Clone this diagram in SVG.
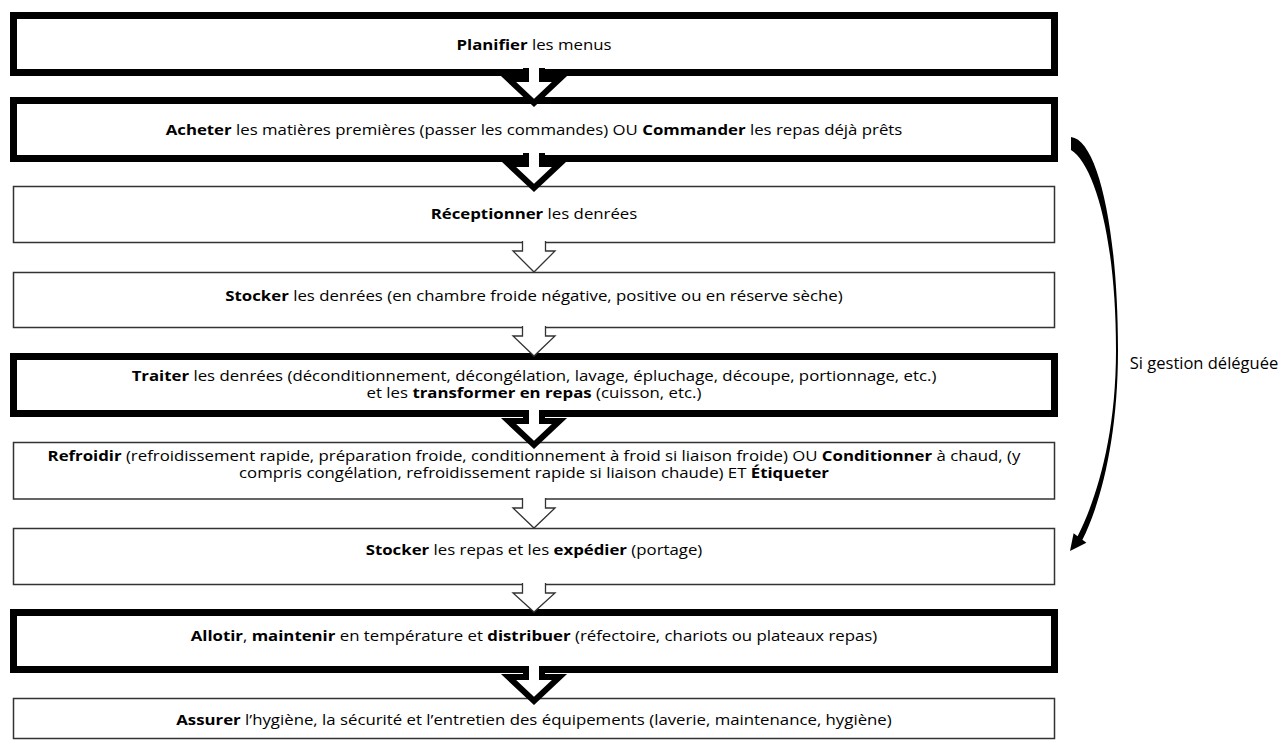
<svg xmlns="http://www.w3.org/2000/svg" width="1284" height="747" viewBox="0 0 1284 747">
<style>
.thick{fill:#fff;stroke:#000;stroke-width:7}
.thin{fill:#fff;stroke:#333;stroke-width:1.5}
text{font-family:"Open Sans","Liberation Sans",sans-serif;font-size:15px;fill:#000;text-anchor:middle}
.b{font-weight:bold}
.ta{fill:#fff;stroke:#000;stroke-width:6;stroke-linejoin:miter}
.na{fill:#fff;stroke:#333;stroke-width:1.3;stroke-linejoin:miter}
</style>
<defs>
<path id="bigArrow" d="M -8 0 V 11 H -25.5 L 0 35 L 25.5 11 H 8 V 0"/>
</defs>
<rect width="1284" height="747" fill="#fff"/>
<g id="n1"><rect class="thick" x="13.5" y="15.5" width="1041" height="57"/><g transform="matrix(1.12,0,0,1,-64.08,0)"><text x="534" y="50"><tspan class="b">Planifier</tspan> les menus</text></g></g>
<g id="n2"><rect class="thick" x="13.5" y="100.5" width="1041" height="58"/><g transform="matrix(1.12,0,0,1,-64.08,0)"><text x="534" y="135"><tspan class="b">Acheter</tspan> les matières premières (passer les commandes) OU <tspan class="b">Commander</tspan> les repas déjà prêts</text></g></g>
<g id="n3"><rect class="thin" x="13.5" y="186.5" width="1041" height="56"/><g transform="matrix(1.12,0,0,1,-64.08,0)"><text x="534" y="219"><tspan class="b">Réceptionner</tspan> les denrées</text></g></g>
<g id="n4"><rect class="thin" x="13.5" y="272.5" width="1041" height="55"/><g transform="matrix(1.12,0,0,1,-64.08,0)"><text x="534" y="301"><tspan class="b">Stocker</tspan> les denrées (en chambre froide négative, positive ou en réserve sèche)</text></g></g>
<g id="n5"><rect class="thick" x="13.5" y="356.5" width="1041" height="57"/><g transform="matrix(1.12,0,0,1,-64.08,0)"><text x="534" y="381"><tspan class="b">Traiter</tspan> les denrées (déconditionnement, décongélation, lavage, épluchage, découpe, portionnage, etc.)</text><text x="534" y="398">et les <tspan class="b">transformer en repas</tspan> (cuisson, etc.)</text></g></g>
<g id="n6"><rect class="thin" x="13.5" y="442.5" width="1041" height="56.5"/><g transform="matrix(1.12,0,0,1,-64.08,0)"><text x="534" y="461"><tspan class="b">Refroidir</tspan> (refroidissement rapide, préparation froide, conditionnement à froid si liaison froide) OU <tspan class="b">Conditionner</tspan> à chaud, (y</text><text x="534" y="478">compris congélation, refroidissement rapide si liaison chaude) ET <tspan class="b">Étiqueter</tspan></text></g></g>
<g id="n7"><rect class="thin" x="13.5" y="528.5" width="1041" height="56"/><g transform="matrix(1.12,0,0,1,-64.08,0)"><text x="534" y="555"><tspan class="b">Stocker</tspan> les repas et les <tspan class="b">expédier</tspan> (portage)</text></g></g>
<g id="n8"><rect class="thick" x="13.5" y="612.5" width="1041" height="57"/><g transform="matrix(1.12,0,0,1,-64.08,0)"><text x="534" y="641"><tspan class="b">Allotir</tspan>, <tspan class="b">maintenir</tspan> en température et <tspan class="b">distribuer</tspan> (réfectoire, chariots ou plateaux repas)</text></g></g>
<g id="n9"><rect class="thin" x="13.5" y="698.5" width="1041" height="40"/><g transform="matrix(1.12,0,0,1,-64.08,0)"><text x="534" y="725"><tspan class="b">Assurer</tspan> l’hygiène, la sécurité et l’entretien des équipements (laverie, maintenance, hygiène)</text></g></g>
<g id="label"><text x="1204" y="369" style="font-size:16.5px">Si gestion déléguée</text></g>
<g id="connectors">
<use href="#bigArrow" class="ta" transform="translate(534,68)"/>
<use href="#bigArrow" class="ta" transform="translate(534,153)"/>
<use href="#bigArrow" class="ta" transform="translate(534,410)"/>
<use href="#bigArrow" class="ta" transform="translate(534,666)"/>
<path class="na" d="M 522.5 241 V 251 H 513 L 534 272 L 555 251 H 545.5 V 241"/>
<path class="na" d="M 522.5 326 V 336 H 513 L 534 356 L 555 336 H 545.5 V 326"/>
<path class="na" d="M 522.5 498 V 508 H 513 L 534 528 L 555 508 H 545.5 V 498"/>
<path class="na" d="M 522.5 583 V 593 H 513 L 534 612 L 555 593 H 545.5 V 583"/>
<path d="M 1071 137 C 1098 140 1118 230 1118 350 C 1118 440 1100 505 1082.4 539.8 L 1086.4 542.8 L 1070 551 L 1073.6 533.2 L 1077.6 536.2 C 1095 502 1116 440 1116 350 C 1116 240 1095 165 1071 150 Z" fill="#000"/>
</g>
</svg>
